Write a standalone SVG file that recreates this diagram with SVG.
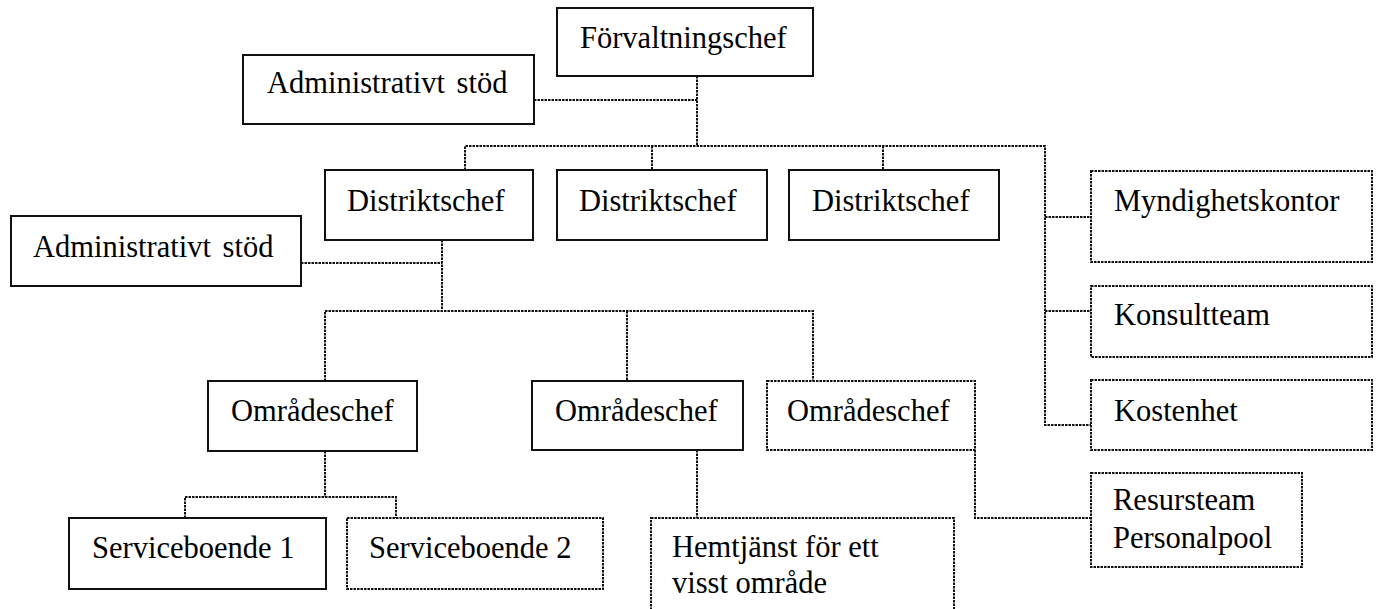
<svg xmlns="http://www.w3.org/2000/svg" width="1377" height="609" viewBox="0 0 1377 609">
<style>
.solid{fill:#fff;stroke:#111;stroke-width:2}
.dot{fill:#fff;stroke:#111;stroke-width:2;stroke-dasharray:2.5 1}
.conn path{fill:none;stroke:#111;stroke-width:2;stroke-dasharray:2.5 1}
text{font-family:"Liberation Serif","Times New Roman",serif;font-size:30.5px;fill:#000}
</style>
<rect width="1377" height="609" fill="#fff"/>
<g id="connectors" class="conn">
<path d="M697,76 V146"/>
<path d="M534,100 H697"/>
<path d="M465,170 V146 H1045 V425 H1091"/>
<path d="M652,146 V170"/>
<path d="M883,146 V170"/>
<path d="M1045,217 H1091"/>
<path d="M1045,311 H1091"/>
<path d="M442,240 V311"/>
<path d="M301,263 H442"/>
<path d="M325,381 V311 H813 V381"/>
<path d="M627,311 V381"/>
<path d="M325,451 V497"/>
<path d="M185,518 V497 H396 V518"/>
<path d="M697,450 V518"/>
<path d="M975,450 V518 H1091"/>
</g>
<g id="forvaltningschef"><rect class="solid" x="557" y="8" width="256" height="68"/><text x="580" y="48">Förvaltningschef</text></g>
<g id="admin1"><rect class="solid" x="243" y="55" width="291" height="69"/><text x="267" y="93" word-spacing="4">Administrativt stöd</text></g>
<g id="distrikt1"><rect class="solid" x="325" y="170" width="208" height="70"/><text x="347" y="211">Distriktschef</text></g>
<g id="distrikt2"><rect class="solid" x="557" y="170" width="210" height="70"/><text x="579" y="211">Distriktschef</text></g>
<g id="distrikt3"><rect class="solid" x="789" y="170" width="210" height="70"/><text x="812" y="211">Distriktschef</text></g>
<g id="myndighet"><rect class="dot" x="1091" y="171" width="281" height="91"/><text x="1114" y="211">Myndighetskontor</text></g>
<g id="konsult"><rect class="dot" x="1091" y="286" width="281" height="71"/><text x="1114" y="325">Konsultteam</text></g>
<g id="kostenhet"><rect class="dot" x="1091" y="380" width="281" height="70"/><text x="1114" y="421">Kostenhet</text></g>
<g id="admin2"><rect class="solid" x="11" y="216" width="290" height="70"/><text x="33" y="257" word-spacing="4">Administrativt stöd</text></g>
<g id="omrade1"><rect class="solid" x="208" y="381" width="209" height="70"/><text x="231" y="421">Områdeschef</text></g>
<g id="omrade2"><rect class="solid" x="532" y="381" width="211" height="69"/><text x="555" y="421">Områdeschef</text></g>
<g id="omrade3"><rect class="dot" x="767" y="381" width="208" height="69"/><text x="787" y="421">Områdeschef</text></g>
<g id="service1"><rect class="solid" x="69" y="518" width="257" height="71"/><text x="92" y="558">Serviceboende 1</text></g>
<g id="service2"><rect class="dot" x="347" y="518" width="256" height="71"/><text x="369" y="558">Serviceboende 2</text></g>
<g id="hemtjanst"><rect class="dot" x="651" y="518" width="303" height="100"/><text x="672" y="557">Hemtjänst för ett</text><text x="672" y="593">visst område</text></g>
<g id="resurs"><rect class="dot" x="1091" y="473" width="211" height="94"/><text x="1113" y="510">Resursteam</text><text x="1113" y="548">Personalpool</text></g>
</svg>
